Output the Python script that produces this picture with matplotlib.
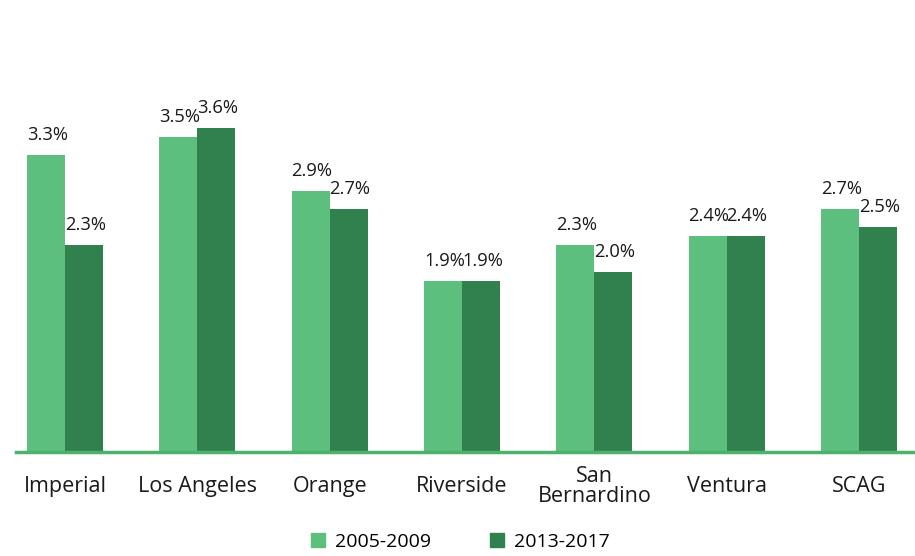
import numpy as np
import matplotlib
matplotlib.use('Agg')
import matplotlib.pyplot as plt
from matplotlib.patches import Patch

plt.rcParams['font.family'] = ['Open Sans', 'DejaVu Sans']

# unemployment-ish shares by county, two ACS periods
counties = ['Imperial', 'Los Angeles', 'Orange', 'Riverside', 'San\nBernardino', 'Ventura', 'SCAG']
v_2005_2009 = [3.3, 3.5, 2.9, 1.9, 2.3, 2.4, 2.7]
v_2013_2017 = [2.3, 3.6, 2.7, 1.9, 2.0, 2.4, 2.5]
series_names = ['2005-2009', '2013-2017']

light = '#5dbf7d'
dark = '#31814f'

fig = plt.figure(figsize=(9.15, 5.56), dpi=100)
ax = fig.add_axes([16/915, 1 - 452/556, 1 - 16/915, 452/556])

x = np.arange(len(counties))
w = 0.287

b1 = ax.bar(x - w/2, v_2005_2009, w, color=light)
b2 = ax.bar(x + w/2, v_2013_2017, w, color=dark)

for bars, vals in [(b1, v_2005_2009), (b2, v_2013_2017)]:
    for b, v in zip(bars, vals):
        ax.annotate('{:.1f}%'.format(v), (b.get_x() + b.get_width()/2, v),
                    xytext=(1, 8), textcoords='offset points',
                    ha='center', va='bottom', fontsize=13.2, color='#1a1a1a')

ax.set_ylim(0, 452/90)
ax.set_xlim(-49/132.33, (915 - 65)/132.33)

for s in ['top', 'right', 'left']:
    ax.spines[s].set_visible(False)
ax.spines['bottom'].set_color('#4cb26b')
ax.spines['bottom'].set_linewidth(2.5)
ax.set_yticks([])
ax.set_xticks(x)
ax.set_xticklabels(counties, fontsize=15.5, color='#1a1a1a', linespacing=0.95, va='center')
ax.tick_params(axis='x', length=0, pad=25)

handles = [Patch(color=light), Patch(color=dark)]
fig.legend(handles, series_names, loc='lower center', bbox_to_anchor=(0.503, -0.022),
           ncol=2, frameon=False, fontsize=14, handlelength=0.75, handleheight=0.75,
           columnspacing=3.0, handletextpad=0.5)

fig.savefig('out.png', dpi=100)
